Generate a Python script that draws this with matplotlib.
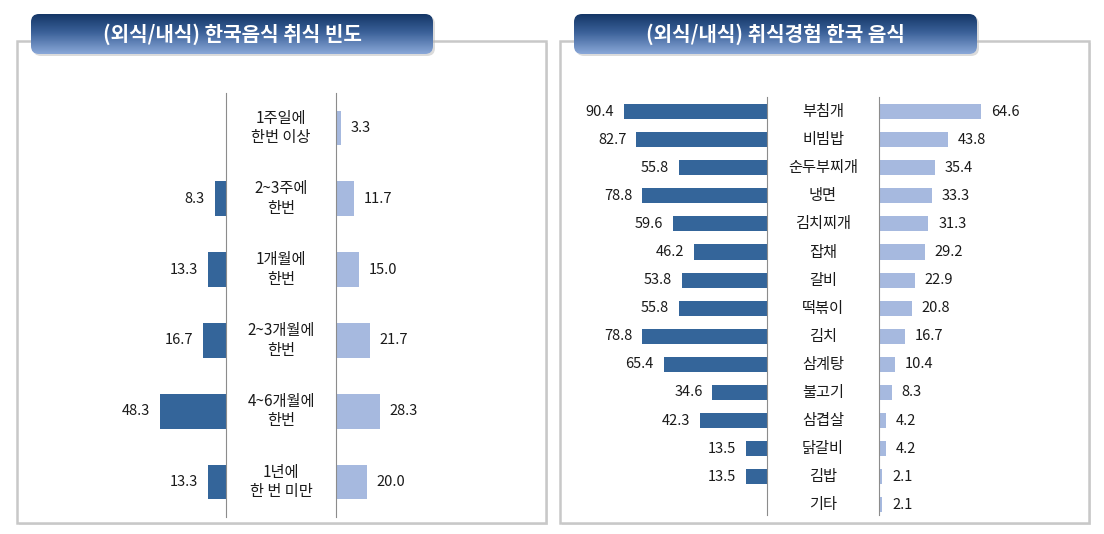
import numpy as np
import matplotlib
matplotlib.use('Agg')
import matplotlib.pyplot as plt
from matplotlib.patches import Rectangle, FancyBboxPatch
from matplotlib.transforms import blended_transform_factory

plt.rcParams['font.family'] = ['Noto Sans CJK KR', 'DejaVu Sans']

# ---- data ----
freq_labels = ['1주일에\n한번 이상', '2~3주에\n한번', '1개월에\n한번',
               '2~3개월에\n한번', '4~6개월에\n한번', '1년에\n한 번 미만']
freq_out = [np.nan, 8.3, 13.3, 16.7, 48.3, 13.3]
freq_in = [3.3, 11.7, 15.0, 21.7, 28.3, 20.0]

food_labels = ['부침개', '비빔밥', '순두부찌개', '냉면', '김치찌개', '잡채', '갈비',
               '떡볶이', '김치', '삼계탕', '불고기', '삼겹살', '닭갈비', '김밥', '기타']
food_out = [90.4, 82.7, 55.8, 78.8, 59.6, 46.2, 53.8, 55.8, 78.8, 65.4,
            34.6, 42.3, 13.5, 13.5, np.nan]
food_in = [64.6, 43.8, 35.4, 33.3, 31.3, 29.2, 22.9, 20.8, 16.7, 10.4,
           8.3, 4.2, 4.2, 2.1, 2.1]

titles = ['(외식/내식) 한국음식 취식 빈도', '(외식/내식) 취식경험 한국 음식']

DARK = '#34659a'
LIGHT = '#a6b9df'
SPINE = '#8c8c8c'
TXT = '#1a1a1a'

W, H = 1104, 534
fig = plt.figure(figsize=(W / 100, H / 100), dpi=100)
fig.patch.set_facecolor('white')


def px_axes(x0, y0, x1, y1, **kw):
    return fig.add_axes([x0 / W, 1 - y1 / H, (x1 - x0) / W, (y1 - y0) / H], **kw)


def panel_box(x0, y0, x1, y1):
    # soft shadow + gray frame
    fig.patches.append(Rectangle((x0 / W + 2 / W, 1 - y1 / H - 2 / H), (x1 - x0) / W, (y1 - y0) / H,
                                 transform=fig.transFigure, facecolor='#e6e6e6',
                                 edgecolor='none', zorder=-3))
    fig.patches.append(Rectangle((x0 / W, 1 - y1 / H), (x1 - x0) / W, (y1 - y0) / H,
                                 transform=fig.transFigure, facecolor='white',
                                 edgecolor='#c8c8c8', lw=1.8, zorder=-2))


def banner(x0, y0, x1, y1, text):
    ax = px_axes(x0, y0 - 1, x1 + 2, y1 + 3, zorder=5)
    w, h = x1 - x0, y1 - y0
    shadow = FancyBboxPatch((2, 3), w, h, boxstyle='round,pad=0,rounding_size=8',
                            facecolor='#b8b8b8', edgecolor='none', alpha=0.5, zorder=0)
    ax.add_patch(shadow)
    box = FancyBboxPatch((0, 1), w, h, boxstyle='round,pad=0,rounding_size=8',
                         facecolor='none', edgecolor='none')
    ax.add_patch(box)
    top = np.array([0x14, 0x36, 0x66]) / 255
    mid = np.array([0x3a, 0x60, 0x98]) / 255
    bot = np.array([0x8a, 0xa8, 0xd8]) / 255
    t = np.linspace(0, 1, 128)[:, None]
    grad = np.where(t < 0.45, top + (mid - top) * (t / 0.45),
                    mid + (bot - mid) * ((t - 0.45) / 0.55))
    grad = np.repeat(grad[:, None, :], 8, axis=1)
    im = ax.imshow(grad, extent=(0, w, h + 1, 1), aspect='auto',
                   interpolation='nearest', zorder=2)
    im.set_clip_path(box)
    ax.set_xlim(0, x1 + 2 - x0)
    ax.set_ylim(y1 + 3 - y0 + 1, 0)
    ax.axis('off')
    ax.text(w / 2, h / 2 + 1, text, ha='center', va='center', color='white',
            fontsize=14.5, fontweight='bold', zorder=3)


def butterfly(lx0, spL, spR, rx1, y0, y1, c0, step, scale_l, scale_r,
              labels, out_vals, in_vals, bar_h, label_size, linesp):
    n = len(labels)
    ylim = ((y1 - c0) / step, (y0 - c0) / step)
    axL = px_axes(lx0, y0, spL, y1)
    axR = px_axes(spR, y0, rx1, y1)
    axL.set_xlim((spL - lx0) / scale_l, 0)
    axR.set_xlim(0, (rx1 - spR) / scale_r)
    ypos = np.arange(n)
    for ax in (axL, axR):
        ax.set_ylim(*ylim)
        ax.set_xticks([])
        ax.set_yticks([])
        for s in ax.spines.values():
            s.set_visible(False)
        ax.patch.set_alpha(0)
    axL.spines['right'].set_visible(True)
    axL.spines['right'].set_color(SPINE)
    axR.spines['left'].set_visible(True)
    axR.spines['left'].set_color(SPINE)

    out_arr = np.array(out_vals, dtype=float)
    axL.barh(ypos, np.nan_to_num(out_arr), height=bar_h, color=DARK)
    axR.barh(ypos, in_vals, height=bar_h, color=LIGHT)
    for i, v in enumerate(out_arr):
        if not np.isnan(v):
            axL.annotate(f'{v:.1f}', (v, i), xytext=(-7, 0), textcoords='offset points',
                         ha='right', va='center', fontsize=10.5, color=TXT)
    for i, v in enumerate(in_vals):
        axR.annotate(f'{v:.1f}', (v, i), xytext=(7, 0), textcoords='offset points',
                     ha='left', va='center', fontsize=10.5, color=TXT)
    tr = blended_transform_factory(fig.transFigure, axR.transData)
    xc = (spL + spR) / 2 / W
    for i, lab in enumerate(labels):
        fig.text(xc, i, lab, transform=tr, ha='center', va='center',
                 fontsize=label_size, color=TXT, linespacing=linesp)


# left panel
panel_box(17, 41, 546, 523)
butterfly(100, 226, 336, 500, 93, 517, 128, 70.8, 1.37, 1.55,
          freq_labels, freq_out, freq_in, 0.49, 11, 1.2)
banner(31, 14, 433, 54, titles[0])

# right panel
panel_box(560, 41, 1089, 523)
butterfly(600, 767, 879, 1060, 97, 515, 111.5, 28.1, 1.58, 1.58,
          food_labels, food_out, food_in, 0.54, 11, 1.0)
banner(574, 14, 977, 54, titles[1])

fig.savefig('out.png', dpi=100)
